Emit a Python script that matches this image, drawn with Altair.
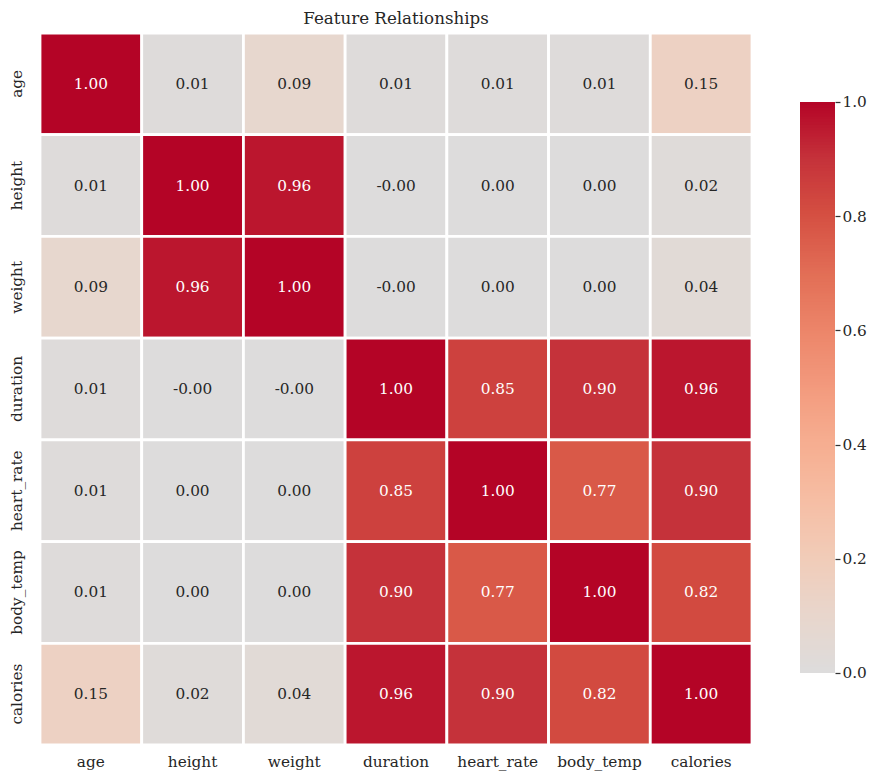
import altair as alt
import pandas as pd

features = ["age", "height", "weight", "duration", "heart_rate", "body_temp", "calories"]
corr = [
    [1.00, 0.01, 0.09, 0.01, 0.01, 0.01, 0.15],
    [0.01, 1.00, 0.96, -0.002, 0.00, 0.00, 0.02],
    [0.09, 0.96, 1.00, -0.002, 0.00, 0.00, 0.04],
    [0.01, -0.002, -0.002, 1.00, 0.85, 0.90, 0.96],
    [0.01, 0.00, 0.00, 0.85, 1.00, 0.77, 0.90],
    [0.01, 0.00, 0.00, 0.90, 0.77, 1.00, 0.82],
    [0.15, 0.02, 0.04, 0.96, 0.90, 0.82, 1.00],
]
cbar_ticks = [0.0, 0.2, 0.4, 0.6, 0.8, 1.0]

# coolwarm upper half (center=0)
cmap_domain = [0.0, 0.1, 0.2, 0.3, 0.4, 0.5, 0.6, 0.7, 0.8, 0.9, 1.0]
cmap_range = ["#dddcdc", "#e8d6cc", "#f1ccb9", "#f6bea4", "#f6ae91", "#f39a7d",
              "#ec8569", "#e26e56", "#d55042", "#c5323a", "#b40426"]

rows = []
for i, r in enumerate(features):
    for j, c in enumerate(features):
        v = corr[i][j]
        rows.append({"row": r, "col": c, "value": v, "label": f"{v:.2f}"})
df = pd.DataFrame(rows)

steps = 200
cb = pd.DataFrame({"v": [k / steps for k in range(steps)]})
cb["v2"] = (cb["v"] + 1.5 / steps).clip(upper=1.0)
cb["c"] = cb["v"] + 0.5 / steps

FONT = "DejaVu Serif"
TXT = "#262626"
FS = 15.3

color_scale = alt.Scale(domain=cmap_domain, range=cmap_range, interpolate="rgb")

base = alt.Chart(df)
rect = base.mark_rect(stroke="white", strokeWidth=2.8).encode(
    x=alt.X("col:N", sort=features, title=None,
            axis=alt.Axis(labelAngle=0, tickSize=0, domain=False, labelPadding=9,
                          labelFontSize=FS, labelFont=FONT, labelColor=TXT)),
    y=alt.Y("row:N", sort=features, title=None,
            axis=alt.Axis(labelAngle=270, tickSize=0, domain=False, labelPadding=16,
                          labelFontSize=FS, labelFont=FONT, labelColor=TXT)),
    color=alt.Color("value:Q", scale=color_scale, legend=None),
)
text = base.mark_text(font=FONT, fontSize=FS).encode(
    x=alt.X("col:N", sort=features),
    y=alt.Y("row:N", sort=features),
    text="label:N",
    color=alt.condition("datum.value > 0.5", alt.value("#ffffff"), alt.value(TXT)),
)
heat = (rect + text).properties(
    width=712, height=712,
    title=alt.TitleParams("Feature Relationships", font=FONT, fontSize=16.7,
                          fontWeight="normal", color=TXT, offset=4),
)

cbar = alt.Chart(cb).mark_rect(strokeWidth=0).encode(
    y=alt.Y("v:Q", scale=alt.Scale(domain=[-0.1261, 1.1208], nice=False, zero=False),
            title=None,
            axis=alt.Axis(orient="right", values=cbar_ticks, format=".1f", domain=False,
                          grid=False, tickSize=5, tickColor="#333333", tickWidth=1.25,
                          labelPadding=2, labelFontSize=FS, labelFont=FONT,
                          labelColor=TXT)),
    y2="v2:Q",
    color=alt.Color("c:Q", scale=color_scale, legend=None),
).properties(width=35, height=712)

chart = alt.hconcat(heat, cbar, spacing=48, bounds="flush").properties(
    padding={"left": 0, "top": 2, "right": 0, "bottom": 4}
).configure_view(stroke=None)

chart.save("out.html", embed_options={"renderer": "svg", "actions": False})
